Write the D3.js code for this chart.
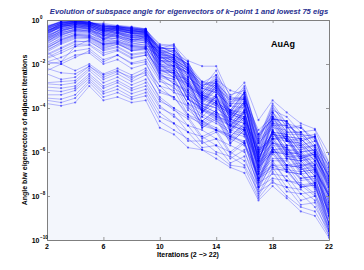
<!DOCTYPE html>
<html>
<head>
<meta charset="utf-8">
<script src="https://cdn.jsdelivr.net/npm/d3@7"></script>
<style>
  html, body { margin: 0; padding: 0; background: #ffffff; }
  svg { display: block; font-family: "Liberation Sans", Arial, Helvetica, sans-serif; }
</style>
</head>
<body>
<svg id="chart" width="364" height="270"></svg>
<script>
// ---- data (log10 of subspace angle) ----
const iterations = [2,3,4,5,6,7,8,9,10,11,12,13,14,15,16,17,18,19,20,21,22];
const xTickValues = [2, 6, 10, 14, 18, 22];
const yTickExponents = [0, -2, -4, -6, -8, -10];
const titleText = "Evolution of subspace angle for eigenvectors of k\u2212point 1 and lowest 75 eigs";
const xLabelText = "Iterations (2 \u2212> 22)";
const yLabelText = "Angle b/w eigenvectors of adjacent iterations";
const systemLabel = "AuAg";

// each row: one eigenvector, log10(angle) at iterations 2..22
const angleExp = [
 [-0.3,-0.1,-0.05,-0.1,-0.2,-0.3,-0.35,-0.45,-1.1,-1.15,-1.85,-2.1,-2.1,-3.5,-2.85,-4.55,-3.65,-4.2,-4.7,-4.95,-6.1],
 [-0.35,-0.05,0,-0.15,-0.15,-0.25,-0.3,-0.4,-1.3,-1.1,-2.3,-3.0,-2.7,-3.2,-3.4,-5.6,-4.0,-4.7,-5.3,-5.2,-6.9],
 [-0.5,-0.2,-0.1,-0.1,-0.3,-0.35,-0.5,-0.5,-1.6,-2.1,-2.4,-3.8,-3.0,-4.6,-3.7,-6.4,-4.7,-5.5,-5.6,-6.2,-7.4],
 [-0.4,-0.15,-0.05,-0.2,-0.45,-0.3,-0.45,-0.6,-1.2,-1.5,-2.6,-3.1,-3.3,-3.9,-3.3,-5.2,-4.5,-4.6,-5.5,-5.3,-7.3],
 [-0.6,-0.1,-0.15,-0.2,-0.25,-0.45,-0.6,-0.55,-1.9,-2.1,-3.2,-4.2,-3.4,-5.1,-4.2,-6.9,-5.1,-6.1,-6.2,-6.8,-8.0],
 [-0.45,-0.3,-0.1,-0.25,-0.55,-0.35,-0.55,-0.7,-1.4,-1.6,-2.0,-3.3,-2.8,-4.3,-3.8,-5.6,-4.8,-4.8,-5.8,-5.7,-7.7],
 [-0.7,-0.25,-0.2,-0.15,-0.35,-0.5,-0.7,-0.6,-2.2,-2.4,-3.6,-4.0,-4.3,-4.7,-5.1,-7.2,-5.6,-6.6,-6.5,-7.3,-8.5],
 [-0.55,-0.35,-0.15,-0.3,-0.6,-0.45,-0.65,-0.8,-1.5,-1.9,-2.3,-3.7,-3.1,-4.5,-3.8,-6.3,-5.1,-5.2,-6.0,-5.9,-7.2],
 [-0.8,-0.4,-0.25,-0.3,-0.45,-0.55,-0.8,-0.65,-1.3,-1.3,-2.2,-2.8,-2.9,-3.5,-3.6,-5.0,-4.4,-4.9,-4.8,-5.7,-6.6],
 [-0.65,-0.2,-0.3,-0.25,-0.75,-0.4,-0.6,-0.85,-2.0,-2.5,-2.7,-4.1,-3.4,-5.0,-4.1,-6.8,-5.0,-6.1,-6.0,-6.6,-8.3],
 [-0.9,-0.5,-0.2,-0.4,-0.5,-0.6,-0.9,-0.7,-1.7,-1.8,-3.0,-3.4,-3.8,-4.1,-4.5,-5.9,-5.4,-5.3,-6.3,-6.1,-7.6],
 [-0.75,-0.45,-0.35,-0.35,-0.85,-0.55,-0.75,-0.9,-1.45,-1.8,-2.2,-3.6,-2.9,-4.4,-3.5,-6.6,-4.4,-5.5,-5.4,-6.0,-7.1],
 [-1.0,-0.55,-0.3,-0.45,-0.65,-0.7,-1.0,-0.75,-2.4,-2.6,-3.8,-4.1,-4.5,-4.8,-5.2,-7.3,-5.8,-6.7,-6.6,-7.5,-8.7],
 [-0.85,-0.6,-0.4,-0.4,-0.9,-0.6,-0.85,-0.95,-1.8,-2.1,-2.4,-3.8,-3.2,-4.8,-3.9,-6.0,-5.2,-5.4,-6.3,-6.0,-7.8],
 [-1.1,-0.7,-0.45,-0.5,-0.7,-0.75,-1.1,-1.0,-1.55,-1.7,-2.9,-3.5,-3.9,-4.2,-4.6,-6.7,-5.0,-5.9,-6.0,-6.8,-7.9],
 [-0.95,-0.65,-0.5,-0.55,-1.0,-0.8,-0.95,-1.05,-2.1,-2.2,-3.4,-3.9,-4.2,-4.5,-4.9,-6.4,-5.9,-5.8,-6.8,-6.6,-8.8],
 [-1.2,-0.8,-0.55,-0.6,-0.85,-0.85,-1.15,-1.1,-1.75,-2.3,-2.7,-4.2,-3.5,-4.9,-4.1,-6.8,-5.3,-6.2,-6.2,-6.9,-8.0],
 [-0.25,-0.1,-0.05,-0.1,-0.3,-0.3,-0.4,-0.5,-2.3,-2.3,-3.6,-4.0,-4.4,-4.6,-5.0,-6.5,-6.0,-6.0,-6.9,-6.8,-8.9],
 [-1.3,-0.9,-0.65,-0.7,-0.95,-0.95,-1.2,-1.2,-1.25,-1.4,-1.9,-3.1,-2.3,-3.8,-3.0,-5.4,-3.8,-4.7,-4.9,-5.4,-6.5],
 [-0.5,-0.3,-0.2,-0.25,-0.4,-0.4,-0.5,-0.55,-1.7,-2.1,-2.5,-3.4,-3.7,-4.2,-4.4,-6.1,-5.2,-5.3,-6.2,-6.1,-7.5],
 [-1.4,-1.0,-0.75,-0.8,-1.1,-1.05,-1.4,-1.3,-2.5,-2.7,-3.8,-4.7,-4.2,-5.4,-4.8,-7.4,-5.9,-6.7,-7.2,-7.1,-9.2],
 [-0.6,-0.35,-0.25,-0.3,-0.5,-0.5,-0.6,-0.6,-1.35,-1.6,-2.1,-3.4,-2.8,-4.2,-3.3,-5.8,-4.2,-5.1,-5.1,-5.8,-6.9],
 [-0.4,-0.2,-0.15,-0.2,-0.35,-0.4,-0.5,-0.5,-2.0,-2.1,-3.2,-3.8,-4.0,-4.5,-4.7,-6.3,-5.6,-5.8,-6.7,-6.4,-8.6],
 [-0.7,-0.45,-0.35,-0.35,-0.6,-0.6,-0.75,-0.75,-1.6,-1.9,-2.3,-3.7,-3.0,-4.4,-3.7,-6.4,-4.6,-5.5,-5.7,-6.2,-7.4],
 [-1.6,-1.3,-1.0,-0.95,-1.4,-1.25,-1.6,-1.5,-2.2,-2.6,-2.9,-4.2,-3.7,-5.0,-4.4,-7.0,-5.4,-6.3,-6.4,-7.1,-8.4],
 [-0.3,-0.1,-0.05,-0.15,-0.2,-0.35,-0.45,-0.45,-1.5,-1.4,-2.6,-3.1,-3.3,-3.9,-4.0,-5.6,-4.9,-5.0,-5.9,-5.7,-7.6],
 [-0.55,-0.25,-0.1,-0.2,-0.45,-0.45,-0.55,-0.65,-2.6,-2.8,-4.0,-4.4,-4.7,-5.1,-5.3,-7.0,-6.4,-6.4,-7.3,-7.2,-9.3],
 [-1.75,-1.5,-1.2,-1.15,-1.6,-1.4,-1.75,-1.6,-2.7,-3.3,-3.5,-4.9,-4.4,-5.6,-5.0,-7.6,-6.1,-6.9,-7.0,-7.7,-9.0],
 [-0.8,-0.55,-0.45,-0.45,-0.75,-0.7,-0.9,-0.85,-1.85,-1.8,-3.0,-3.5,-3.8,-4.3,-4.5,-6.2,-5.4,-5.4,-6.4,-6.2,-8.2],
 [-0.35,-0.15,-0.1,-0.15,-0.3,-0.3,-0.4,-0.45,-1.4,-1.7,-2.0,-3.3,-2.6,-4.1,-3.3,-5.9,-4.3,-5.2,-5.2,-5.9,-7.0],
 [-1.05,-0.75,-0.6,-0.65,-1.05,-0.9,-1.05,-1.15,-2.3,-2.4,-3.5,-4.1,-4.3,-4.8,-5.0,-6.7,-6.0,-6.1,-6.9,-6.8,-8.9],
 [-0.45,-0.2,-0.1,-0.1,-0.4,-0.35,-0.45,-0.55,-1.65,-2.0,-2.4,-3.6,-3.1,-4.5,-3.8,-6.4,-4.7,-5.7,-5.7,-6.4,-7.5],
 [-1.9,-1.7,-1.4,-1.3,-1.8,-1.6,-1.95,-1.8,-2.8,-3.0,-4.1,-4.6,-4.9,-5.3,-5.5,-7.2,-6.6,-6.6,-7.5,-7.4,-9.5],
 [-0.65,-0.3,-0.2,-0.25,-0.55,-0.5,-0.6,-0.7,-1.3,-1.6,-2.0,-2.8,-3.1,-3.6,-3.6,-5.2,-4.5,-4.6,-5.4,-5.3,-7.1],
 [-1.25,-0.95,-0.7,-0.75,-1.15,-1.0,-1.25,-1.25,-2.0,-2.4,-2.8,-4.1,-3.5,-4.8,-4.2,-6.7,-5.1,-6.0,-6.1,-6.8,-8.0],
 [-0.5,-0.25,-0.15,-0.2,-0.45,-0.4,-0.5,-0.6,-1.9,-1.9,-3.1,-3.6,-3.9,-4.4,-4.6,-6.5,-5.7,-5.8,-6.6,-6.6,-8.7],
 [-0.9,-0.6,-0.4,-0.5,-0.8,-0.75,-0.9,-0.9,-1.45,-1.7,-2.1,-3.4,-2.8,-4.2,-3.4,-6.0,-4.4,-5.3,-5.4,-6.0,-7.1],
 [-0.3,-0.05,0,-0.1,-0.25,-0.25,-0.35,-0.45,-1.15,-1.2,-2.15,-2.85,-2.5,-3.4,-3.2,-5.2,-4.1,-4.4,-5.1,-5.0,-6.5],
 [-1.45,-1.1,-0.85,-0.85,-1.25,-1.1,-1.4,-1.35,-2.4,-2.9,-3.2,-4.6,-4.1,-5.3,-4.7,-7.2,-5.8,-6.6,-6.7,-7.4,-8.7],
 [-0.75,-0.4,-0.3,-0.3,-0.65,-0.55,-0.7,-0.75,-1.75,-1.7,-2.9,-3.4,-3.7,-4.2,-4.4,-6.1,-5.3,-5.4,-6.3,-6.1,-8.1],
 [-0.4,-0.15,-0.05,-0.15,-0.35,-0.3,-0.4,-0.5,-1.55,-1.9,-2.3,-3.6,-3.0,-4.4,-3.7,-6.2,-4.6,-5.5,-5.6,-6.2,-7.3],
 [-1.55,-1.25,-0.95,-1.0,-1.35,-1.2,-1.55,-1.45,-2.55,-2.7,-3.8,-4.3,-4.6,-5.0,-5.2,-6.9,-6.3,-6.3,-7.2,-7.1,-9.2],
 [-0.6,-0.35,-0.2,-0.3,-0.5,-0.45,-0.6,-0.65,-1.2,-1.5,-1.9,-3.2,-2.5,-3.9,-3.1,-5.5,-3.9,-4.9,-4.9,-5.5,-6.7],
 [-1.15,-0.85,-0.65,-0.7,-1.1,-0.95,-1.15,-1.2,-2.1,-2.1,-3.3,-3.8,-4.0,-4.5,-4.7,-6.4,-5.6,-5.7,-6.6,-6.5,-8.6],
 [-0.35,-0.1,-0.05,-0.1,-0.3,-0.3,-0.35,-0.4,-1.35,-1.6,-2.0,-3.3,-2.7,-4.1,-3.3,-5.8,-4.2,-5.1,-5.1,-5.8,-6.8],
 [-0.85,-0.5,-0.35,-0.4,-0.7,-0.65,-0.8,-0.85,-1.6,-1.6,-2.7,-3.3,-3.5,-4.1,-4.2,-5.9,-5.1,-5.2,-6.0,-5.9,-7.8],
 [-0.5,-0.2,-0.1,-0.15,-0.4,-0.35,-0.5,-0.55,-1.8,-2.2,-2.6,-3.9,-3.4,-4.7,-4.1,-6.6,-5.0,-5.9,-5.9,-6.6,-7.9],
 [-1.35,-1.05,-0.8,-0.8,-1.2,-1.05,-1.3,-1.3,-2.35,-2.4,-3.6,-4.1,-4.4,-4.8,-5.0,-6.7,-6.0,-6.1,-7.0,-6.9,-8.9],
 [-0.45,-0.25,-0.1,-0.2,-0.4,-0.35,-0.45,-0.55,-1.45,-1.75,-2.2,-3.5,-2.9,-4.2,-3.5,-6.0,-4.4,-5.3,-5.4,-6.0,-7.1],
 [-0.7,-0.4,-0.25,-0.35,-0.6,-0.55,-0.7,-0.7,-2.05,-2.5,-2.9,-4.2,-3.7,-5.0,-4.4,-6.9,-5.4,-6.2,-6.3,-7.0,-8.3],
 [-2.0,-1.9,-1.6,-1.5,-2.0,-1.8,-2.2,-2.0,-3.0,-3.2,-4.3,-4.8,-5.0,-5.4,-5.7,-7.2,-6.8,-6.8,-7.6,-7.5,-9.6],
 [-0.55,-0.3,-0.15,-0.2,-0.5,-0.4,-0.55,-0.6,-1.25,-1.3,-2.25,-2.95,-2.8,-3.6,-3.5,-5.4,-4.2,-4.8,-5.2,-5.3,-6.7],
 [-1.0,-0.7,-0.5,-0.55,-0.9,-0.8,-1.0,-1.0,-1.95,-2.3,-2.8,-4.0,-3.5,-4.8,-4.2,-6.3,-5.1,-6.0,-6.1,-6.7,-8.0],
 [-0.3,-0.1,-0.05,-0.1,-0.25,-0.3,-0.35,-0.4,-1.7,-1.7,-2.8,-3.4,-3.6,-4.1,-4.3,-6.0,-5.2,-5.3,-6.2,-6.0,-8.0],
 [-0.95,-0.65,-0.45,-0.5,-0.85,-0.7,-0.9,-0.95,-2.25,-2.6,-3.0,-4.4,-3.8,-5.1,-4.5,-7.0,-5.5,-6.3,-6.4,-7.1,-8.4],
 [-0.4,-0.15,-0.1,-0.15,-0.35,-0.35,-0.4,-0.5,-1.4,-1.4,-2.4,-3.0,-3.2,-3.8,-3.8,-5.5,-4.7,-4.8,-5.7,-5.5,-7.4],
 [-1.7,-1.4,-1.1,-1.1,-1.5,-1.35,-1.7,-1.6,-2.65,-3.1,-3.5,-4.8,-4.3,-5.5,-4.9,-7.5,-6.0,-6.8,-6.9,-7.6,-8.9],
 [-0.6,-0.3,-0.2,-0.25,-0.5,-0.45,-0.6,-0.65,-1.85,-1.9,-3.0,-3.5,-3.8,-4.3,-4.5,-6.2,-5.4,-5.5,-6.4,-6.3,-8.3],
 [-0.8,-0.5,-0.3,-0.4,-0.7,-0.6,-0.8,-0.8,-1.5,-1.8,-2.2,-3.5,-2.9,-4.3,-3.6,-6.1,-4.5,-5.4,-5.5,-6.1,-7.3],
 [-0.35,-0.15,-0.05,-0.1,-0.3,-0.3,-0.4,-0.45,-2.15,-2.3,-3.4,-3.9,-4.2,-4.6,-4.9,-6.6,-5.9,-5.9,-6.8,-6.7,-8.8],
 [-1.25,-0.9,-0.7,-0.75,-1.1,-1.0,-1.2,-1.25,-1.65,-2.0,-2.4,-3.7,-3.2,-4.5,-3.9,-6.4,-4.8,-5.7,-5.8,-6.4,-7.6],
 [-0.5,-0.2,-0.15,-0.2,-0.45,-0.4,-0.5,-0.55,-1.3,-1.3,-2.3,-2.9,-3.0,-3.7,-3.6,-5.3,-4.5,-4.6,-5.5,-5.3,-7.2],
 [-1.45,-1.9,-1.2,-0.9,-1.3,-1.1,-1.35,-1.3,-2.45,-2.9,-3.3,-4.6,-4.1,-5.3,-4.7,-7.3,-5.8,-6.6,-6.7,-7.4,-8.6],
 [-2.3,-2.0,-2.3,-2.0,-2.45,-2.2,-2.5,-2.2,-3.0,-3.6,-3.9,-4.9,-4.5,-5.6,-5.0,-7.3,-6.0,-6.9,-7.0,-7.6,-8.8],
 [-2.45,-2.7,-2.6,-2.1,-2.5,-2.3,-2.7,-2.3,-3.2,-3.5,-4.4,-4.7,-5.0,-5.3,-5.6,-7.0,-6.6,-6.8,-7.6,-7.4,-9.3],
 [-2.85,-2.8,-2.75,-2.2,-2.7,-2.45,-2.8,-2.5,-3.5,-4.0,-4.4,-5.3,-5.0,-6.0,-5.5,-7.7,-6.4,-7.3,-7.4,-7.9,-9.2],
 [-2.9,-2.95,-2.85,-2.3,-2.85,-2.6,-2.95,-2.7,-3.7,-4.0,-4.8,-5.0,-5.4,-5.7,-6.0,-7.4,-7.0,-7.1,-7.9,-7.8,-9.6],
 [-3.05,-3.1,-3.0,-2.45,-3.0,-2.75,-3.1,-2.85,-3.9,-4.4,-4.8,-5.6,-5.4,-6.3,-5.9,-7.9,-6.7,-7.6,-7.7,-8.2,-9.5],
 [-3.2,-3.25,-3.1,-2.55,-3.1,-2.85,-3.2,-3.0,-4.0,-4.3,-5.1,-5.3,-5.7,-6.0,-6.4,-7.6,-7.2,-7.3,-8.2,-8.0,-9.7],
 [-3.4,-3.4,-3.2,-2.65,-3.25,-3.0,-3.35,-3.15,-4.2,-4.7,-5.1,-5.8,-5.7,-6.5,-6.2,-8.0,-6.9,-7.8,-7.9,-8.5,-9.6],
 [-3.55,-3.6,-3.4,-2.75,-3.35,-3.15,-3.5,-3.3,-4.4,-4.7,-5.5,-5.5,-6.0,-6.2,-6.6,-7.8,-7.4,-7.6,-8.4,-8.3,-9.8],
 [-3.65,-3.75,-3.55,-2.85,-3.5,-3.3,-3.6,-3.45,-4.6,-5.0,-5.4,-5.9,-6.1,-6.6,-6.7,-8.1,-7.3,-8.0,-8.5,-8.7,-9.8],
 [-3.8,-3.9,-3.75,-3.0,-3.65,-3.5,-3.75,-3.65,-4.9,-5.2,-5.8,-5.9,-6.3,-6.7,-6.95,-8.2,-7.55,-8.1,-8.7,-8.9,-9.9],
 [-1.9,-2.0,-1.7,-1.4,-1.9,-1.6,-2.0,-1.9,-3.3,-3.5,-4.3,-4.6,-5.0,-5.2,-5.6,-7.1,-6.7,-6.9,-7.6,-7.5,-9.3],
 [-2.2,-2.4,-2.45,-2.1,-2.6,-2.35,-2.6,-2.4,-3.6,-4.1,-4.5,-5.4,-5.1,-6.1,-5.6,-7.6,-6.5,-7.3,-7.5,-8.0,-9.4]
];

// ---- layout ----
const svg = d3.select("#chart");
const plot = { left: 47, right: 329, top: 20, bottom: 240 };

const x = d3.scaleLinear().domain([2, 22]).range([plot.left, plot.right]);
const y = d3.scaleLog().domain([1e-10, 1]).range([plot.bottom, plot.top]);

// background
svg.append("rect")
  .attr("x", plot.left).attr("y", plot.top)
  .attr("width", plot.right - plot.left).attr("height", plot.bottom - plot.top)
  .attr("fill", "#f3f6fc");

svg.append("clipPath").attr("id", "clip").append("rect")
  .attr("x", plot.left).attr("y", plot.top)
  .attr("width", plot.right - plot.left).attr("height", plot.bottom - plot.top);

const series = angleExp.map(row => row.map((e, i) => ({ it: iterations[i], v: Math.pow(10, e) })));

const line = d3.line().x(d => x(d.it)).y(d => y(d.v));

const g = svg.append("g").attr("clip-path", "url(#clip)");
g.selectAll("path.s").data(series).join("path")
  .attr("class", "s")
  .attr("d", line)
  .attr("fill", "none")
  .attr("stroke", "#0000ff")
  .attr("stroke-opacity", 0.36)
  .attr("stroke-width", 0.75);

g.selectAll("g.m").data(series).join("g").attr("class", "m")
  .selectAll("circle").data(d => d).join("circle")
  .attr("cx", d => x(d.it)).attr("cy", d => y(d.v))
  .attr("r", 1.1)
  .attr("fill", "#0000ff")
  .attr("fill-opacity", 0.5);

// axes (MATLAB-like box with inward ticks)
const tickLen = 3;
const axisColor = "#7f7f7f";
const yTickVals = yTickExponents.map(e => Math.pow(10, e));

const bottomAxis = d3.axisBottom(x).tickValues(xTickValues).tickSizeInner(-tickLen).tickSizeOuter(0).tickFormat("");
const topAxis = d3.axisTop(x).tickValues(xTickValues).tickSizeInner(-tickLen).tickSizeOuter(0).tickFormat("");
const leftAxis = d3.axisLeft(y).tickValues(yTickVals).tickSizeInner(-tickLen).tickSizeOuter(0).tickFormat("");
const rightAxis = d3.axisRight(y).tickValues(yTickVals).tickSizeInner(-tickLen).tickSizeOuter(0).tickFormat("");

function styleAxis(sel) {
  sel.selectAll("path.domain").attr("stroke", axisColor).attr("stroke-width", 1);
  sel.selectAll(".tick line").attr("stroke", axisColor).attr("stroke-width", 0.8);
}
svg.append("g").attr("transform", `translate(0,${plot.bottom})`).call(bottomAxis).call(styleAxis);
svg.append("g").attr("transform", `translate(0,${plot.top})`).call(topAxis).call(styleAxis);
svg.append("g").attr("transform", `translate(${plot.left},0)`).call(leftAxis).call(styleAxis);
svg.append("g").attr("transform", `translate(${plot.right},0)`).call(rightAxis).call(styleAxis);

// x tick labels
svg.append("g").selectAll("text").data(xTickValues).join("text")
  .attr("x", d => x(d)).attr("y", plot.bottom + 9)
  .attr("text-anchor", "middle")
  .attr("font-size", 7).attr("font-weight", "bold").attr("fill", "#000")
  .text(d => d);

// y tick labels: 10^e
const yl = svg.append("g").selectAll("g").data(yTickExponents).join("g")
  .attr("transform", d => `translate(0,${y(Math.pow(10, d))})`);
yl.append("text")
  .attr("x", 39.5).attr("y", 3)
  .attr("text-anchor", "end")
  .attr("font-size", 7).attr("font-weight", "bold").attr("fill", "#000")
  .text("10");
yl.append("text")
  .attr("x", 40).attr("y", -1)
  .attr("text-anchor", "start")
  .attr("font-size", 4.5).attr("font-weight", "bold").attr("fill", "#000")
  .text(d => d === 0 ? "0" : "\u2212" + Math.abs(d));

// title
svg.append("text")
  .attr("x", 189).attr("y", 14)
  .attr("text-anchor", "middle")
  .attr("font-size", 7.6).attr("font-weight", "bold").attr("font-style", "italic")
  .attr("fill", "#28308f")
  .text(titleText);

// axis labels
svg.append("text")
  .attr("x", 188).attr("y", 257)
  .attr("text-anchor", "middle")
  .attr("font-size", 7).attr("font-weight", "bold").attr("fill", "#000")
  .text(xLabelText);

svg.append("text")
  .attr("transform", `translate(27,130) rotate(-90)`)
  .attr("text-anchor", "middle")
  .attr("font-size", 7).attr("font-weight", "bold").attr("fill", "#000")
  .text(yLabelText);

// annotation
svg.append("text")
  .attr("x", 271).attr("y", 47)
  .attr("font-size", 9).attr("font-weight", "bold").attr("fill", "#000")
  .text(systemLabel);
</script>
</body>
</html>
